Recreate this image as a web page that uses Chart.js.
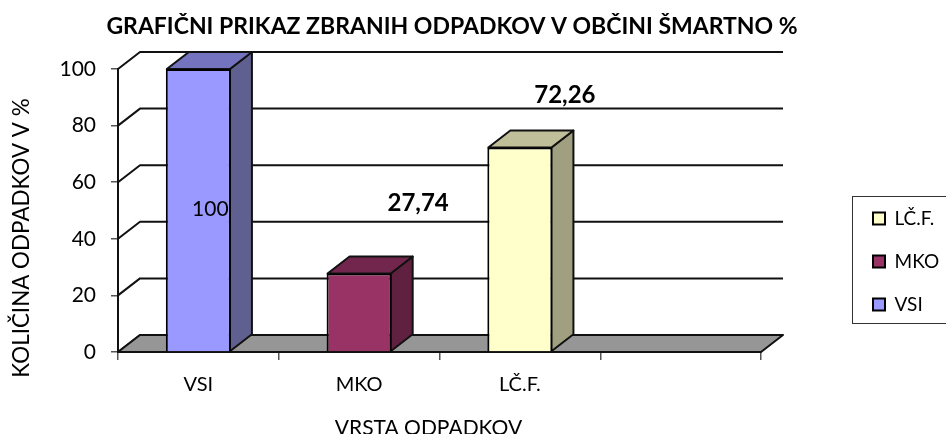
<!DOCTYPE html>
<html>
<head>
    <meta charset="UTF-8">
    <title>Odpadki Šmartno</title>
    <script src="https://cdn.jsdelivr.net/npm/chart.js"></script>
    <style>
        body { margin: 0; background: #fff; }
        canvas { display: block; }
    </style>
</head>
<body>
    <canvas id="myChart" width="946" height="434"></canvas>

    <script>
    const Categories = ['VSI', 'MKO', 'LČ.F.', ''];
    const Values = [100, 27.74, 72.26, null];
    const YTicks = [0, 20, 40, 60, 80, 100];
    const LegendNames = ['LČ.F.', 'MKO', 'VSI'];

    const FrontColors = ['#9999FF', '#993366', '#FFFFCC'];
    const TopColors = ['#7373BF', '#73264D', '#BFBF99'];
    const SideColors = ['#606090', '#602040', '#A0A080'];
    const LegendColors = ['#FFFFCC', '#993366', '#9999FF'];

    const FontName = 'Lato';
    const DepthX = 22;
    const DepthY = 17;
    // where each value label sits, measured from the top middle of its bar
    const LabelOffsets = [[12, 140], [59, -70], [45, -52]];
    const LabelBold = [false, true, true];

    const Box3D = {
        id: 'box3d',
        afterLayout(chart) {
            // title and legend are not centred on anything in the original
            chart.titleBlock.left = 0;
            chart.titleBlock.right = 904;
            const lg = chart.legend;
            lg.left = 849;
            lg.right = 946;
            lg.top = 185;
            lg.bottom = 434;
        },
        beforeDatasetsDraw(chart) {
            const ctx = chart.ctx;
            const x = chart.scales.x;
            const y = chart.scales.y;
            const left = x.left, right = x.right, floor = y.getPixelForValue(0);
            ctx.save();
            ctx.lineJoin = 'round';
            ctx.strokeStyle = '#111';
            ctx.lineWidth = 2;

            // back wall lines
            YTicks.forEach(function (t) {
                const py = y.getPixelForValue(t);
                ctx.beginPath();
                ctx.moveTo(left, py);
                ctx.lineTo(left + DepthX, py - DepthY);
                ctx.lineTo(right + DepthX, py - DepthY);
                ctx.stroke();
            });

            // floor
            ctx.fillStyle = '#969696';
            ctx.beginPath();
            ctx.moveTo(left, floor);
            ctx.lineTo(left + DepthX, floor - DepthY);
            ctx.lineTo(right + DepthX, floor - DepthY);
            ctx.lineTo(right, floor);
            ctx.closePath();
            ctx.fill();
            ctx.stroke();

            // top and side of the bars, the front is the normal chart.js bar
            chart.getDatasetMeta(0).data.forEach(function (bar, i) {
                if (Values[i] === null) { return; }
                const p = bar.getProps(['x', 'y', 'base', 'width']);
                const l = p.x - p.width / 2 + 1, r = p.x + p.width / 2 - 1;
                ctx.fillStyle = SideColors[i];
                ctx.beginPath();
                ctx.moveTo(r, p.y);
                ctx.lineTo(r + DepthX, p.y - DepthY);
                ctx.lineTo(r + DepthX, p.base - DepthY);
                ctx.lineTo(r, p.base);
                ctx.closePath();
                ctx.fill();
                ctx.stroke();
                ctx.fillStyle = TopColors[i];
                ctx.beginPath();
                ctx.moveTo(l, p.y);
                ctx.lineTo(l + DepthX, p.y - DepthY);
                ctx.lineTo(r + DepthX, p.y - DepthY);
                ctx.lineTo(r, p.y);
                ctx.closePath();
                ctx.fill();
                ctx.stroke();
            });
            ctx.restore();
        },
        afterDraw(chart) {
            const ctx = chart.ctx;
            ctx.save();
            ctx.fillStyle = '#000';
            ctx.textAlign = 'center';
            ctx.textBaseline = 'middle';

            // value labels
            chart.getDatasetMeta(0).data.forEach(function (bar, i) {
                if (Values[i] === null) { return; }
                ctx.font = (LabelBold[i] ? 'bold 24px ' : '21px ') + FontName;
                ctx.fillText(String(Values[i]).replace('.', ','), bar.x + LabelOffsets[i][0], bar.y + LabelOffsets[i][1]);
            });

            // axis titles
            ctx.font = '21px ' + FontName;
            ctx.fillText('VRSTA ODPADKOV', 428.5, 428);
            ctx.font = '22.4px ' + FontName;
            ctx.translate(22, 238);
            ctx.rotate(-Math.PI / 2);
            ctx.fillText('KOLIČINA ODPADKOV V %', 0, 0);
            ctx.restore();

            // legend frame
            ctx.save();
            ctx.strokeStyle = '#333';
            ctx.lineWidth = 1;
            ctx.strokeRect(852.5, 196.5, 94, 127);
            ctx.restore();
        }
    };

    new Chart(document.getElementById('myChart'), {
        type: 'bar',
        plugins: [Box3D],
        data: {
            labels: Categories,
            datasets: [{
                data: Values,
                backgroundColor: FrontColors,
                borderColor: '#000',
                borderWidth: 2,
                categoryPercentage: 1,
                barPercentage: 0.405
            }]
        },
        options: {
            responsive: false,
            animation: false,
            layout: { padding: { left: 0, right: 185, top: 0, bottom: 0 } },
            plugins: {
                title: {
                    display: true,
                    text: 'GRAFIČNI PRIKAZ ZBRANIH ODPADKOV V OBČINI ŠMARTNO %',
                    color: '#000',
                    font: { family: FontName, size: 23, weight: 'bold', lineHeight: 1 },
                    padding: { top: 15, bottom: 31 }
                },
                legend: {
                    display: true,
                    position: 'chartArea',
                    align: 'start',
                    labels: {
                        boxWidth: 12,
                        boxHeight: 12,
                        padding: 24,
                        color: '#000',
                        font: { family: FontName, size: 19 },
                        generateLabels: function () {
                            return LegendNames.map(function (name, i) {
                                return { text: name, fillStyle: LegendColors[i], strokeStyle: '#000', lineWidth: 2, fontColor: '#000', hidden: false };
                            });
                        }
                    }
                },
                tooltip: { enabled: false }
            },
            scales: {
                x: {
                    afterFit: function (s) { s.height = 82; },
                    grid: { drawOnChartArea: false, tickLength: 8, color: '#555', lineWidth: 1.5 },
                    border: { color: '#111', width: 2 },
                    ticks: { color: '#000', padding: 13, maxRotation: 0, font: { family: FontName, size: 20 } }
                },
                y: {
                    min: 0,
                    max: 100,
                    afterFit: function (s) { s.width = 118; },
                    afterBuildTicks: function (s) { s.ticks = YTicks.map(function (v) { return { value: v }; }); },
                    grid: { drawOnChartArea: false, tickLength: 7, color: '#555', lineWidth: 1.5 },
                    border: { color: '#111', width: 2 },
                    ticks: { color: '#000', padding: 15, font: { family: FontName, size: 21 } }
                }
            }
        }
    });
    </script>
</body>
</html>
